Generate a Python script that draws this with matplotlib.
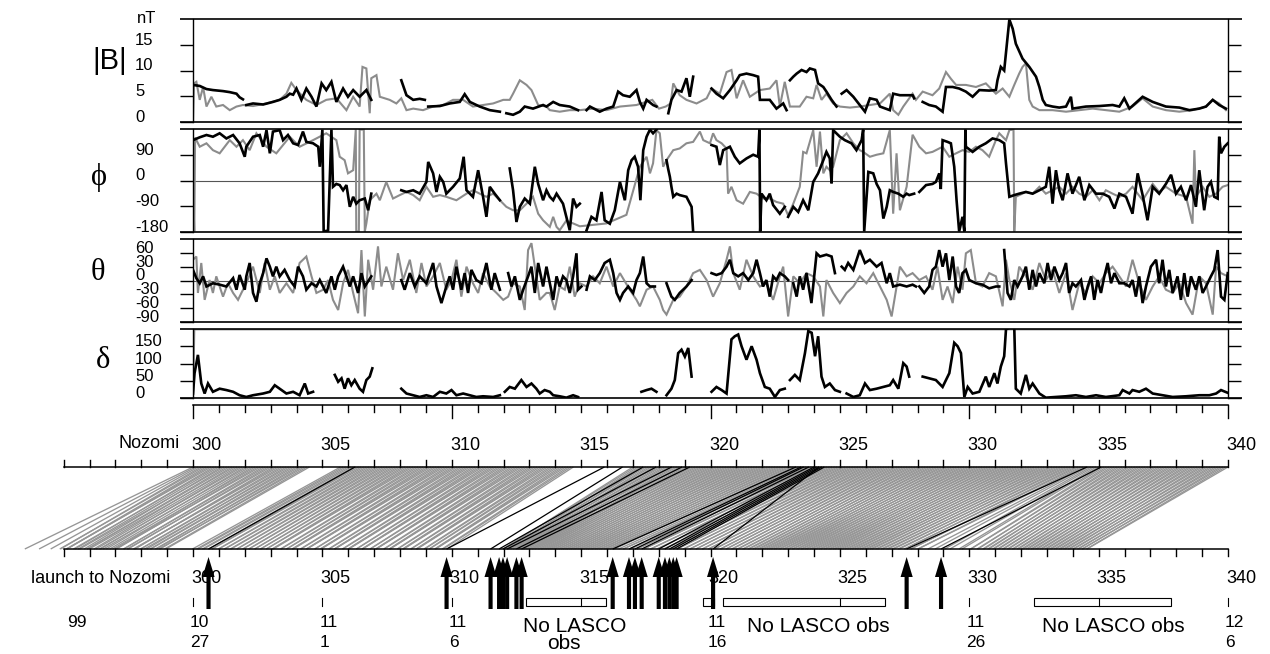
import numpy as np
import matplotlib
matplotlib.use("Agg")
import matplotlib.pyplot as plt
import matplotlib.transforms as mtransforms
from matplotlib.collections import LineCollection
from matplotlib.patches import Rectangle, FancyArrow

plt.rcParams['font.family'] = ['Liberation Sans', 'DejaVu Sans']
nan = np.nan

# ---------------- data (day of year, value) ----------------
b_black = [(300.00, 7.2), (300.26, 7.0), (300.52, 6.4), (300.77, 6.2), (301.16, 6.0), (301.42, 5.8),
           (301.68, 5.5), (301.80, 4.8), (301.93, 4.4), (301.97, nan), (302.06, 3.3), (302.32, 3.6),
           (302.71, 3.4), (303.09, 3.9), (303.35, 4.3), (303.61, 4.9), (303.74, 5.5), (303.87, 5.3),
           (304.00, 6.5), (304.19, 4.3), (304.38, 6.5), (304.58, 4.9), (304.77, 3.0), (304.97, 7.5),
           (305.15, 6.2), (305.35, 7.8), (305.54, 3.9), (305.80, 6.5), (305.99, 4.9), (306.19, 6.2),
           (306.44, 4.9), (306.70, 6.2), (306.89, 4.3), (307.50, nan), (308.05, 8.1), (308.25, 5.2),
           (308.51, 4.3), (308.76, 4.5), (308.96, 4.3), (309.05, nan), (309.09, 3.0), (309.54, 3.1),
           (309.92, 3.6), (310.31, 3.9), (310.50, 5.4), (310.70, 3.9), (311.08, 3.0), (311.47, 2.3),
           (311.86, 2.0), (311.95, nan), (312.11, 1.7), (312.37, 1.4), (312.63, 2.0), (312.82, 3.0),
           (313.14, 2.6), (313.53, 3.3), (313.66, 3.0), (313.92, 3.9), (314.17, 3.3), (314.56, 3.0),
           (314.88, 2.3), (315.00, nan), (315.21, 2.3), (315.34, 3.0), (315.72, 2.0), (315.98, 2.6),
           (316.24, 3.0), (316.43, 5.9), (316.62, 5.2), (316.88, 4.9), (317.14, 6.2), (317.27, 3.9),
           (317.40, 2.6), (317.53, 4.3), (317.78, 3.3), (317.91, 3.0), (318.10, nan), (318.37, 1.7),
           (318.49, 4.3), (318.69, 6.2), (318.88, 5.9), (319.07, 8.5), (319.20, 4.9), (319.33, 8.8),
           (319.60, nan), (320.04, 6.5), (320.23, 5.5), (320.49, 4.6), (320.75, 6.2), (321.01, 8.1),
           (321.13, 9.1), (321.39, 9.4), (321.65, 9.1), (321.84, 8.8), (321.91, 4.3), (322.29, 4.3),
           (322.55, 2.6), (322.81, 3.6), (322.94, 2.3), (323.00, nan), (323.07, 8.1), (323.20, 8.8),
           (323.33, 9.4), (323.52, 10.1), (323.71, 9.7), (323.84, 10.4), (324.04, 10.1), (324.16, 7.5),
           (324.36, 6.8), (324.48, 5.9), (324.68, 4.3), (324.87, 3.0), (324.95, nan), (325.07, 5.5),
           (325.26, 6.2), (325.52, 4.9), (325.77, 3.3), (325.97, 2.0), (326.16, 4.6), (326.42, 4.3),
           (326.55, 3.0), (326.93, 2.3), (327.06, 5.5), (327.32, 5.2), (327.58, 5.2), (327.81, 5.2),
           (327.87, 4.6), (327.95, nan), (328.20, 3.9), (328.45, 3.3), (328.71, 3.0), (328.97, 2.0),
           (329.10, 6.8), (329.36, 6.8), (329.61, 6.5), (329.87, 5.9), (330.13, 4.9), (330.39, 6.2),
           (330.77, 6.1), (331.03, 6.2), (331.09, 8.1), (331.22, 10.7), (331.35, 10.0), (331.48, 16.5),
           (331.55, 19.9), (331.68, 18.1), (331.80, 15.2), (332.06, 12.3), (332.32, 10.7), (332.58, 8.8),
           (332.71, 6.8), (332.84, 4.3), (332.96, 3.3), (333.22, 3.0), (333.48, 2.8), (333.74, 3.0),
           (333.93, 4.9), (333.99, 2.6), (334.51, 3.0), (335.03, 3.1), (335.54, 3.3), (335.80, 3.0),
           (335.99, 4.6), (336.19, 2.6), (336.70, 4.9), (337.09, 3.9), (337.60, 3.0), (338.12, 2.8),
           (338.51, 2.3), (338.89, 2.6), (339.15, 3.0), (339.41, 4.3), (339.66, 3.3), (339.92, 2.6)]

b_grey = [(300.00, 0.0), (300.04, 7.5), (300.13, 7.8), (300.26, 4.3), (300.39, 6.8), (300.52, 3.0),
          (300.71, 4.9), (300.90, 3.0), (301.16, 3.3), (301.42, 2.3), (301.68, 3.0), (301.93, 3.3),
          (302.32, 3.1), (302.84, 3.6), (303.35, 4.3), (303.61, 5.5), (303.80, 7.6), (304.00, 6.2),
          (304.38, 4.3), (304.77, 3.3), (305.15, 4.3), (305.54, 4.6), (305.93, 2.3), (306.19, 4.9),
          (306.44, 3.0), (306.55, 10.7), (306.70, 10.4), (306.83, 1.7), (306.89, 8.5), (307.09, 9.1),
          (307.22, 4.9), (307.60, 4.3), (307.86, 3.6), (308.05, 4.6), (308.25, 2.3), (308.51, 2.6),
          (308.89, 2.3), (309.28, 3.0), (309.67, 3.3), (310.05, 4.3), (310.44, 4.3), (310.82, 3.0),
          (311.21, 3.3), (311.60, 3.6), (311.99, 4.3), (312.24, 4.3), (312.37, 5.5), (312.63, 8.1),
          (312.89, 7.2), (313.08, 6.2), (313.34, 3.3), (313.66, 3.0), (313.79, 2.3), (314.17, 2.0),
          (314.56, 2.3), (314.95, 2.3), (315.46, 2.6), (315.98, 2.3), (316.50, 3.0), (317.14, 3.3),
          (317.75, 4.3), (318.01, 2.6), (318.27, 3.0), (318.46, 3.6), (318.56, 7.5), (318.81, 5.2),
          (319.07, 4.3), (319.46, 3.6), (319.85, 4.6), (320.04, 6.5), (320.36, 5.5), (320.62, 9.7),
          (320.81, 10.1), (321.01, 4.6), (321.26, 8.1), (321.52, 4.9), (321.91, 6.2), (322.29, 6.5),
          (322.55, 8.1), (322.68, 3.0), (322.87, 7.8), (323.07, 3.0), (323.45, 3.0), (323.71, 4.9),
          (323.97, 4.6), (324.10, 7.2), (324.29, 4.3), (324.48, 5.5), (324.74, 3.6), (325.00, 3.0),
          (325.39, 2.8), (325.77, 3.0), (326.16, 3.3), (326.55, 3.6), (326.93, 5.5), (327.06, 2.3),
          (327.26, 1.4), (327.45, 3.0), (327.81, 5.5), (327.94, 4.3), (328.20, 5.9), (328.58, 5.2),
          (328.84, 6.5), (328.97, 8.1), (329.10, 9.7), (329.29, 8.4), (329.49, 7.2), (329.87, 7.2),
          (330.26, 6.8), (330.64, 7.5), (331.03, 5.5), (331.29, 6.5), (331.55, 4.9), (331.74, 7.2),
          (331.93, 9.4), (332.06, 10.7), (332.19, 11.4), (332.32, 4.3), (332.45, 3.0), (332.71, 2.3),
          (333.22, 2.3), (333.74, 2.0), (334.25, 2.3), (334.77, 2.6), (335.28, 2.3), (335.80, 2.0),
          (336.31, 3.0), (336.70, 4.6), (337.09, 3.0), (337.60, 2.3), (338.12, 2.0), (338.63, 2.3),
          (339.15, 3.0), (339.41, 4.3), (339.66, 3.6), (339.92, 2.3)]

phi_black = [(300.00, 141), (300.26, 151), (300.52, 159), (300.77, 153), (301.03, 165), (301.29, 147),
             (301.55, 159), (301.80, 130), (302.00, 83), (302.06, 118), (302.32, 153), (302.58, 159),
             (302.71, 118), (302.84, 176), (302.97, 95), (303.09, 171), (303.35, 176), (303.48, 141),
             (303.67, 159), (303.87, 130), (304.06, 124), (304.25, 171), (304.38, 135), (304.64, 130),
             (304.84, 118), (304.90, 48), (305.00, 178), (305.05, -178), (305.22, -175), (305.35, 178),
             (305.41, -22), (305.54, -12), (305.67, -16), (305.80, -34), (305.93, -16), (306.06, -92),
             (306.19, -57), (306.31, -81), (306.44, -69), (306.64, -63), (306.77, -104), (306.89, -46),
             (307.50, nan), (308.05, -34), (308.25, -40), (308.51, -34), (308.76, -46), (309.02, -5),
             (309.09, 65), (309.28, 25), (309.41, -40), (309.54, 13), (309.67, -5), (309.79, -46),
             (310.05, -22), (310.31, 7), (310.46, 83), (310.57, -34), (310.70, -46), (310.82, -57),
             (311.02, 36), (311.21, -57), (311.34, -127), (311.47, -22), (311.66, -46), (311.86, -69),
             (312.00, nan), (312.24, 42), (312.37, -34), (312.50, -145), (312.63, -92), (312.82, -63),
             (313.02, -81), (313.21, 48), (313.34, -12), (313.53, -69), (313.66, -34), (313.79, -57),
             (313.92, -69), (314.05, -46), (314.30, -81), (314.56, -174), (314.69, -63), (314.82, -92),
             (314.95, -81), (315.05, nan), (315.21, -174), (315.40, -127), (315.59, -139), (315.79, -40),
             (315.91, -139), (316.11, -151), (316.30, -104), (316.50, -5), (316.69, -69), (316.82, 36),
             (316.95, 71), (317.07, 83), (317.20, 48), (317.29, -69), (317.40, 106), (317.53, 153),
             (317.66, 178), (317.78, 165), (317.91, 178), (318.10, nan), (318.30, 71), (318.36, 42),
             (318.43, 13), (318.49, -22), (318.56, -57), (318.69, -46), (318.81, -51), (319.07, -57),
             (319.27, -92), (319.33, -180), (319.60, nan), (320.04, 124), (320.23, 118), (320.36, 54),
             (320.49, 106), (320.75, 118), (320.94, 83), (321.13, 60), (321.39, 77), (321.65, 90),
             (321.84, 83), (321.89, 178), (321.92, -178), (321.97, -46), (322.16, -69), (322.29, -46),
             (322.42, -86), (322.68, -116), (322.87, -92), (322.95, nan), (323.00, -127), (323.20, -92),
             (323.39, -110), (323.58, -69), (323.78, -104), (323.97, -5), (324.16, 25), (324.36, 71),
             (324.48, 100), (324.61, 77), (324.68, -10), (324.74, 176), (325.00, 153), (325.19, 141),
             (325.45, 130), (325.64, 106), (325.84, 141), (325.90, 178), (325.94, -178), (326.10, 30),
             (326.29, 25), (326.42, -12), (326.55, -34), (326.68, -133), (326.81, -92), (326.93, -34),
             (327.06, -40), (327.26, -46), (327.45, -57), (327.58, -46), (327.68, -51), (327.87, -46),
             (327.95, nan), (328.07, -40), (328.33, -16), (328.58, -12), (328.71, -5), (328.84, 25),
             (328.90, -30), (328.97, 141), (329.16, 135), (329.29, 130), (329.42, 48), (329.51, -69),
             (329.61, -178), (329.74, -127), (329.81, -178), (329.85, 178), (329.87, 118), (330.13, 100),
             (330.39, 118), (330.64, 130), (330.90, 147), (331.16, 141), (331.35, 130), (331.42, 60),
             (331.55, -57), (331.74, -51), (331.93, -46), (332.19, -40), (332.45, -46), (332.71, -34),
             (332.96, -22), (333.09, 48), (333.22, -81), (333.35, 36), (333.48, -34), (333.61, -69),
             (333.80, 25), (333.99, -46), (334.25, 13), (334.45, -69), (334.64, -16), (334.90, -46),
             (335.16, -46), (335.41, -57), (335.61, -98), (335.80, -46), (336.06, -57), (336.31, -116),
             (336.51, 25), (336.70, -51), (336.89, -139), (337.09, -22), (337.34, -46), (337.60, -12),
             (337.80, 20), (337.99, -46), (338.18, -22), (338.38, -69), (338.57, -16), (338.76, -92),
             (338.89, 36), (339.08, -104), (339.21, -22), (339.34, -5), (339.47, -57), (339.60, -63),
             (339.66, 153), (339.73, 95), (339.86, 118), (339.99, 130)]

phi_grey = [(300.00, -15), (300.05, -178), (300.08, 150), (300.26, 118), (300.52, 130), (300.77, 106),
            (301.03, 95), (301.42, 141), (301.68, 118), (301.93, 141), (302.19, 106), (302.45, 165),
            (302.84, 118), (303.22, 95), (303.74, 153), (304.12, 118), (304.64, 141), (305.15, 165),
            (305.54, 141), (305.67, 83), (305.86, 71), (305.99, 25), (306.19, 36), (306.29, 178),
            (306.31, -178), (306.41, -178), (306.44, 178), (306.60, 178), (306.64, -178), (306.70, -150),
            (306.83, -69), (307.09, -46), (307.22, -69), (307.47, -5), (307.73, -63), (307.99, -51),
            (308.25, -40), (308.51, -51), (308.76, -69), (309.02, -22), (309.28, -57), (309.54, -51),
            (309.79, -57), (310.18, -69), (310.57, -46), (310.82, -34), (311.08, -46), (311.34, -57),
            (311.60, -46), (311.86, -69), (312.11, -92), (312.37, -104), (312.63, -104), (312.89, -81),
            (313.14, -57), (313.34, -116), (313.53, -139), (313.79, -162), (313.92, -127), (314.05, -162),
            (314.17, -174), (314.43, -140), (314.69, -150), (314.95, -160), (315.98, -150), (316.75, -120),
            (317.27, 48), (317.53, 83), (317.66, 25), (317.78, 60), (317.91, 176), (318.04, 165),
            (318.17, 48), (318.30, 71), (318.56, 106), (318.81, 112), (319.07, 130), (319.33, 135),
            (319.59, 171), (319.72, 141), (319.98, 130), (320.10, 165), (320.23, 141), (320.43, 130),
            (320.62, 112), (320.68, -46), (320.81, -22), (321.01, -69), (321.26, -81), (321.52, -40),
            (321.78, -46), (322.03, -63), (322.29, -63), (322.55, -75), (322.81, -81), (323.00, -122),
            (323.20, -81), (323.45, -22), (323.58, 100), (323.71, 95), (323.97, 176), (324.10, 48),
            (324.23, 171), (324.36, 25), (324.48, 48), (324.61, 36), (324.74, 48), (325.00, 141),
            (325.26, 165), (325.52, 130), (325.77, 106), (325.90, 100), (326.16, 83), (326.42, 90),
            (326.68, 95), (326.93, 176), (327.06, -116), (327.19, 95), (327.32, -104), (327.58, -22),
            (327.81, 160), (328.07, 118), (328.33, 95), (328.58, 100), (328.97, 118), (329.23, 83),
            (329.49, 95), (329.74, 106), (330.00, 100), (330.26, 118), (330.51, 106), (330.77, 83),
            (331.03, 141), (331.16, 165), (331.42, 141), (331.55, 176), (331.71, 178), (331.74, -178),
            (331.80, -57), (332.19, -40), (332.45, -46), (332.71, -22), (332.96, -46), (333.22, -34),
            (333.48, -22), (333.74, -46), (333.99, -22), (334.25, -46), (334.51, -57), (334.77, -34),
            (335.03, -69), (335.28, -34), (335.54, -46), (335.80, -57), (336.06, -46), (336.31, -22),
            (336.70, -69), (337.09, -12), (337.34, -40), (337.60, -22), (337.99, -46), (338.38, -57),
            (338.63, -151), (338.70, 106), (338.76, -57), (339.02, -22), (339.28, -57), (339.54, -46),
            (339.79, -22), (339.99, -16)]

theta_black = [(300.00, 23), (300.13, 5), (300.26, -6), (300.39, 9), (300.52, -13), (300.77, -6),
               (301.03, -9), (301.29, -13), (301.55, 5), (301.68, -20), (301.80, 12), (302.00, -20),
               (302.06, 9), (302.19, 38), (302.32, -27), (302.45, -46), (302.58, -6), (302.71, 16),
               (302.84, 48), (302.97, 30), (303.09, 9), (303.22, 30), (303.35, 9), (303.54, 23),
               (303.74, 1), (303.93, -13), (304.06, 30), (304.25, 9), (304.38, -20), (304.58, -6),
               (304.77, -13), (304.90, 1), (305.15, -27), (305.35, 9), (305.48, -20), (305.61, 9),
               (305.80, 30), (305.93, 9), (306.06, -13), (306.19, 9), (306.38, -27), (306.51, 16),
               (306.64, -13), (306.89, 9), (307.50, nan), (308.05, 1), (308.18, -20), (308.38, 16),
               (308.57, -13), (308.76, 9), (309.02, -6), (309.28, 38), (309.41, -13), (309.60, -49),
               (309.79, -13), (309.92, 9), (310.05, -20), (310.18, 30), (310.37, -20), (310.50, 16),
               (310.63, -27), (310.76, 23), (310.95, 1), (311.15, -6), (311.34, 38), (311.53, -20),
               (311.66, 16), (311.86, -20), (312.00, nan), (312.18, 16), (312.31, -13), (312.44, 9),
               (312.63, -42), (312.76, -20), (312.95, 9), (313.08, 30), (313.21, -27), (313.34, 38),
               (313.53, -13), (313.66, 30), (313.92, -42), (314.05, 9), (314.17, -13), (314.30, 9),
               (314.43, 1), (314.56, -27), (314.69, 9), (314.82, 59), (314.88, -20), (315.01, -13),
               (315.10, nan), (315.21, -20), (315.34, 9), (315.53, 1), (315.72, 16), (315.91, 38),
               (316.11, 45), (316.24, 16), (316.37, -27), (316.50, -42), (316.62, -27), (316.82, -13),
               (317.01, -27), (317.14, 1), (317.27, 16), (317.40, 52), (317.53, -6), (317.66, -13),
               (317.85, -13), (318.10, nan), (318.30, -6), (318.49, -35), (318.62, -42), (318.81, -27),
               (319.07, -13), (319.27, 1), (319.60, nan), (320.04, 16), (320.23, 12), (320.43, 16),
               (320.62, 30), (320.75, 45), (320.88, 16), (321.07, 9), (321.26, 16), (321.46, 1),
               (321.65, 16), (321.78, 45), (321.91, 16), (322.03, -13), (322.16, 1), (322.29, -35),
               (322.42, 9), (322.55, 1), (322.68, 16), (322.87, 9), (323.00, 1), (323.10, nan),
               (323.20, -6), (323.33, -35), (323.45, 9), (323.58, -20), (323.71, 16), (323.90, -49),
               (324.10, 59), (324.23, 52), (324.48, 56), (324.68, 52), (324.81, 16), (324.95, nan),
               (325.07, 30), (325.19, 23), (325.32, 38), (325.52, 23), (325.77, 66), (325.97, 38),
               (326.16, 45), (326.42, 30), (326.61, 38), (326.81, -6), (326.93, 16), (327.06, -13),
               (327.32, -9), (327.58, -13), (327.81, -9), (327.94, -13), (328.00, nan), (328.07, -13),
               (328.26, -27), (328.45, -13), (328.58, 23), (328.71, 30), (328.84, 66), (328.97, 30),
               (329.10, 59), (329.23, 1), (329.36, 52), (329.49, -13), (329.61, -27), (329.74, 16),
               (329.87, 23), (330.00, 1), (330.26, -6), (330.51, -9), (330.77, -17), (331.03, -13),
               (331.16, -13), (331.25, nan), (331.35, 66), (331.48, -27), (331.61, -42), (331.74, 1),
               (331.87, -13), (332.06, 9), (332.19, 30), (332.32, -20), (332.45, 23), (332.58, -13),
               (332.71, 16), (332.90, -6), (333.03, 38), (333.16, 1), (333.29, 30), (333.48, 1),
               (333.61, 16), (333.74, 38), (333.86, -27), (333.99, -6), (334.12, -13), (334.32, 1),
               (334.45, -42), (334.58, -13), (334.71, 9), (334.83, -42), (334.96, 1), (335.09, -27),
               (335.22, 9), (335.35, 38), (335.48, -6), (335.61, 16), (335.80, -6), (335.99, -6),
               (336.19, -13), (336.31, 1), (336.44, -35), (336.57, 9), (336.70, -49), (336.83, -13),
               (337.02, 30), (337.22, 45), (337.34, -6), (337.47, 45), (337.60, -13), (337.73, 23),
               (337.86, -27), (338.05, 9), (338.18, -42), (338.31, 16), (338.44, -35), (338.57, 9),
               (338.76, -20), (338.89, 9), (339.02, -27), (339.15, -13), (339.34, 9), (339.47, 23),
               (339.60, 66), (339.73, -35), (339.86, -42), (339.99, 16)]

theta_grey = [(300.00, 45), (300.13, 52), (300.19, -27), (300.32, 38), (300.45, -42), (300.64, 1),
              (300.77, -27), (300.90, 9), (301.16, -35), (301.35, -6), (301.55, -27), (301.74, -42),
              (301.87, -27), (302.06, -6), (302.32, 30), (302.58, -27), (302.77, 38), (302.97, -20),
              (303.16, 9), (303.35, -27), (303.61, -6), (303.87, -27), (304.12, 38), (304.38, 52),
              (304.58, 9), (304.77, -27), (305.03, -20), (305.22, 1), (305.41, -42), (305.61, -64),
              (305.80, -6), (305.99, 23), (306.19, -27), (306.38, -71), (306.51, 66), (306.64, -78),
              (306.77, 45), (306.96, -20), (307.15, 74), (307.28, -13), (307.47, 30), (307.73, -20),
              (307.92, 59), (308.12, 1), (308.38, 45), (308.63, -27), (308.83, 38), (309.02, -13),
              (309.28, 9), (309.54, 38), (309.79, -20), (309.99, 1), (310.18, 45), (310.37, -35),
              (310.57, 30), (310.82, -6), (311.02, -27), (311.21, 16), (311.47, -13), (311.73, -27),
              (311.99, -42), (312.18, -35), (312.37, -6), (312.63, -13), (312.82, -64), (312.95, 66),
              (313.08, 81), (313.21, 30), (313.40, -42), (313.66, -27), (313.79, -27), (313.98, -64),
              (314.17, -13), (314.37, -20), (314.56, 30), (314.75, -35), (314.95, -6), (315.21, -13),
              (315.46, 9), (315.72, -6), (315.98, 30), (316.24, -13), (316.50, 16), (316.88, -20),
              (317.14, -42), (317.27, -56), (317.53, -20), (317.78, -13), (318.04, -42), (318.17, -64),
              (318.30, -74), (318.56, -42), (318.81, -35), (319.07, -13), (319.33, 16), (319.59, 23),
              (319.85, 1), (320.10, -35), (320.36, -6), (320.62, 45), (320.75, 74), (320.88, 16),
              (321.13, -20), (321.39, 45), (321.65, 9), (321.91, -13), (322.16, -6), (322.42, -42),
              (322.68, 9), (322.81, 30), (323.00, -78), (323.20, 9), (323.45, -6), (323.71, 16),
              (323.97, 9), (324.23, -13), (324.36, -78), (324.48, 1), (324.74, -27), (325.00, -49),
              (325.26, -27), (325.52, -13), (325.77, 9), (326.03, -6), (326.29, 16), (326.55, -13),
              (326.81, -42), (327.00, -78), (327.19, -13), (327.32, 30), (327.58, 9), (327.81, 16),
              (328.07, 1), (328.33, 9), (328.58, -20), (328.77, 30), (328.97, -42), (329.16, -13),
              (329.36, -49), (329.55, 30), (329.74, -20), (329.87, 59), (330.06, 66), (330.26, -6),
              (330.51, -13), (330.77, 16), (331.03, 9), (331.29, -56), (331.42, 45), (331.55, 1),
              (331.74, -42), (331.93, 30), (332.19, 9), (332.45, -20), (332.71, 38), (332.96, 1),
              (333.22, 23), (333.48, -27), (333.74, 16), (333.99, -64), (334.25, -6), (334.51, -27),
              (334.77, 9), (335.03, -6), (335.28, 16), (335.54, 30), (335.80, 9), (336.06, -13),
              (336.31, 45), (336.57, -6), (336.83, -42), (337.09, -13), (337.34, 9), (337.60, -20),
              (337.86, -27), (338.12, -6), (338.38, -49), (338.63, -74), (338.89, 9), (339.15, -6),
              (339.41, -74), (339.54, 30), (339.73, 16), (339.99, 9)]

delta_black = [(300.00, 13), (300.06, 72), (300.19, 125), (300.32, 42), (300.45, 13), (300.58, 42),
               (300.77, 18), (301.03, 27), (301.29, 23), (301.55, 18), (301.80, 8), (302.06, 3),
               (302.32, 8), (302.71, 13), (302.97, 18), (303.16, 37), (303.35, 27), (303.61, 13),
               (303.87, 18), (304.12, 8), (304.32, 42), (304.45, 13), (304.64, 18), (305.00, nan),
               (305.48, 67), (305.61, 47), (305.74, 57), (305.86, 27), (305.99, 57), (306.12, 37),
               (306.25, 52), (306.44, 27), (306.57, 18), (306.70, 52), (306.83, 62), (306.93, 86),
               (307.50, nan), (308.05, 27), (308.25, 13), (308.51, 8), (308.76, 3), (309.02, 8),
               (309.28, 3), (309.54, 18), (309.79, 13), (309.99, 23), (310.18, 8), (310.44, 13),
               (310.70, 8), (310.95, 3), (311.21, 5), (311.60, 3), (311.86, 8), (311.95, nan),
               (312.05, 18), (312.24, 32), (312.44, 27), (312.69, 52), (312.89, 32), (313.08, 42),
               (313.27, 27), (313.40, 13), (313.59, 23), (313.79, 18), (313.92, 8), (314.17, 5),
               (314.43, 1), (314.69, 8), (314.88, 3), (315.00, nan), (317.33, 18), (317.53, 23),
               (317.72, 27), (317.91, 18), (318.10, nan), (318.30, 8), (318.49, 27), (318.62, 52),
               (318.75, 130), (318.88, 140), (319.01, 120), (319.14, 145), (319.27, 62), (319.60, nan),
               (320.04, 18), (320.23, 32), (320.43, 23), (320.62, 13), (320.81, 170), (320.94, 179),
               (321.07, 184), (321.20, 150), (321.39, 111), (321.59, 150), (321.78, 111), (321.91, 72),
               (322.10, 32), (322.29, 27), (322.49, 3), (322.68, 23), (322.87, 27), (322.97, nan),
               (323.07, 52), (323.26, 67), (323.45, 52), (323.65, 130), (323.78, 194), (323.91, 189),
               (324.04, 121), (324.16, 179), (324.29, 62), (324.42, 32), (324.61, 42), (324.81, 23),
               (325.00, 18), (325.13, nan), (325.26, 13), (325.52, 3), (325.77, 8), (325.97, 42),
               (326.16, 23), (326.42, 27), (326.68, 32), (326.93, 37), (327.06, 52), (327.26, 27),
               (327.45, 101), (327.58, 91), (327.68, 62), (327.95, nan), (328.20, 62), (328.45, 57),
               (328.71, 52), (328.97, 32), (329.23, 72), (329.42, 160), (329.55, 150), (329.68, 130),
               (329.81, 3), (329.94, 32), (330.13, 13), (330.39, 18), (330.64, 62), (330.77, 32),
               (330.97, 72), (331.09, 42), (331.22, 91), (331.35, 121), (331.42, 199), (331.55, 204),
               (331.74, 204), (331.80, 27), (331.99, 13), (332.19, 67), (332.32, 27), (332.45, 42),
               (332.71, 13), (332.96, 1), (333.35, 3), (333.74, 5), (334.12, 8), (334.51, 3),
               (334.90, 8), (335.28, 3), (335.80, 8), (335.93, 23), (336.19, 13), (336.31, 23),
               (336.57, 18), (336.83, 27), (337.09, 13), (337.47, 8), (337.86, 3), (338.38, 5),
               (338.89, 8), (339.28, 8), (339.54, 13), (339.73, 23), (339.99, 15)]

# grey delta sits against the top of its scale
delta_grey = [(300.00, 0), (300.05, 199), (340.00, 199)]

# ballistic mapping: arrival day at Nozomi (row start, 0.1 day steps) -> travel time in days
travel_rows = {
    300: [6.50, 6.05, 5.70, 5.42, 5.55, 5.38, 5.47, 5.60, 5.36, 5.52],
    301: [5.44, 5.31, 5.58, 5.40, 5.49, 5.33, 5.61, 5.45, 5.38, 5.52],
    302: [5.35, 5.57, 5.42, 5.30, 5.51, 5.46, 5.62, 5.37, 5.49, 5.41],
    303: [5.55, 5.34, 5.48, 5.60, 5.43, 5.52, 5.39, 5.58, 5.46, 5.53],
    304: [5.41, 5.56, 5.48, 5.62, 5.50, 5.55, nan, nan, nan, nan],
    305: [nan, nan, nan, nan, nan, nan, nan, 5.72, 5.66, 5.70],
    306: [5.64, 5.69, 5.60, 5.58, 5.66, 5.52, 5.61, 5.49, 5.57, 5.46],
    307: [5.53, 5.41, 5.50, 5.38, 5.47, 5.35, 5.44, 5.31, 5.42, 5.29],
    308: [5.39, 5.27, 5.36, 5.24, 5.33, 5.40, 5.22, 5.30, 5.19, 5.28],
    309: [5.17, 5.26, 5.33, 5.15, 5.23, 5.12, 5.21, 5.30, 5.10, 5.19],
    310: [5.08, 5.17, 5.25, 5.06, 5.14, 5.04, 5.13, 5.22, 5.03, 5.11],
    311: [5.01, 5.10, 5.18, 4.99, 5.08, 4.97, 5.06, 5.15, 4.96, 5.05],
    312: [4.94, 5.03, 5.12, 4.93, 5.01, 4.92, 5.00, 5.09, 4.91, 4.99],
    313: [4.90, 4.98, 5.06, 4.89, 4.97, 4.88, 4.96, 5.04, 4.87, 4.95],
    314: [4.88, 4.96, 4.86, 4.94, 5.02, 4.87, 4.93, 4.89, nan, nan],
    315: [nan] * 10,
    316: [nan] * 10,
    317: [5.00, 5.12, 5.06, 5.21, 5.16, 5.33, 5.24, 5.42, 5.35, 5.52],
    318: [5.44, 5.63, 5.55, 5.72, 5.64, 5.83, 5.74, 5.92, 5.81, 6.00],
    319: [5.91, 6.09, 6.00, 6.18, 6.08, 6.27, 6.16, 6.34, 6.22, 6.40],
    320: [6.29, 6.46, 6.35, 6.52, 6.41, 6.57, 6.46, 6.62, 6.50, 6.67],
    321: [6.55, 6.71, 6.59, 6.76, 6.63, 6.80, 6.66, 6.84, 6.70, 6.87],
    322: [6.73, 6.91, 6.77, 6.94, 6.80, 6.97, 6.83, 7.00, 6.86, 7.03],
    323: [6.89, 7.06, 6.92, 7.08, 6.95, 6.88, 6.96, 6.81, 6.90, 6.74],
    324: [6.84, 6.67, 6.79, 6.60, 6.73, 6.54, 6.68, 6.48, 6.62, 6.43],
    325: [6.57, 6.38, 6.51, 6.33, 6.46, 6.29, 6.41, 6.25, 6.37, 6.20],
    326: [6.33, 6.17, 6.29, 6.13, 6.26, 6.10, 6.23, 6.08, 6.21, 6.05],
    327: [6.19, 6.03, 6.17, 6.01, 6.16, 6.00, 6.16, 5.99, 6.17, 6.00],
    328: [6.18, 6.01, 6.20, 6.03, 6.22, 6.05, 6.25, 6.07, 6.28, 6.09],
    329: [6.31, 6.12, 6.34, 6.15, 6.37, 6.18, 6.40, 6.21, 6.42, 6.24],
    330: [6.45, 6.26, 6.47, 6.28, 6.49, 6.30, 6.51, 6.32, 6.53, 6.34],
    331: [6.55, 6.36, 6.57, 6.38, 6.58, 6.40, 6.59, 6.41, 6.60, 6.42],
    332: [6.61, 6.43, 6.62, 6.44, 6.62, 6.44, 6.63, 6.45, 6.63, 6.45],
    333: [6.62, 6.44, 6.61, 6.43, 6.60, 6.42, 6.58, 6.40, 6.56, 6.38],
    334: [6.52, 6.35, 6.47, 6.29, 6.38, 6.10, 5.92, 5.65, 5.55, 5.30],
    335: [5.28, 5.05, 5.14, 4.96, 5.10, 4.93, 5.08, 4.94, 5.09, 4.95],
    336: [5.10, 4.96, 5.11, 4.97, 5.12, 4.98, 5.13, 4.99, 5.14, 5.00],
    337: [5.16, 5.01, 5.18, 5.03, 5.20, 5.05, 5.22, 5.07, 5.24, 5.09],
    338: [5.26, 5.11, 5.28, 5.13, 5.30, 5.15, 5.32, 5.17, 5.34, 5.19],
    339: [5.36, 5.22, 5.38, 5.25, 5.40, 5.28, 5.42, 5.32, 5.45, 5.37],
    340: [5.45],
}

# CMEs seen by LASCO: launch day and arrival day at Nozomi
cme_launch = [300.6, 309.8, 311.5, 311.83, 311.98, 312.14, 312.5, 312.7, 316.22, 316.85,
              317.08, 317.34, 318.0, 318.24, 318.41, 318.56, 318.69, 320.1, 327.58, 328.91]
cme_arrive = [306.26, 315.9, 316.6, 317.4, 317.9, 318.5, 318.9, 319.2, 323.3, 323.5,
              323.6, 323.8, 324.0, 324.1, 324.2, 324.3, 324.4, 324.2, 334.55, 335.1]

no_lasco = [(312.87, 315.96), (319.7, 320.15), (320.5, 326.75), (332.5, 337.8)]
dates = [(300, '10', '27'), (305, '11', '1'), (310, '11', '6'), (320, '11', '16'),
         (330, '11', '26'), (340, '12', '6')]

# ---------------- figure ----------------
W, H = 1270.0, 654.0
X0, X1 = 193.0, 1228.0
PXD = (X1 - X0) / 40.0


def px2day(x):
    return 300 + (x - X0) / PXD


fig = plt.figure(figsize=(12.7, 6.54), dpi=100)
cv = fig.add_axes([0, 0, 1, 1])
cv.set_xlim(px2day(0), px2day(W))
cv.set_ylim(H, 0)
cv.axis('off')

GREY = '#8c8c8c'
xa, xb = px2day(180), px2day(1242)


def panel(top, bot, ylim, ticks, labels):
    ax = fig.add_axes([X0 / W, 1 - bot / H, (X1 - X0) / W, (bot - top) / H])
    ax.set_facecolor('none')
    ax.set_xlim(300, 340)
    ax.set_ylim(*ylim)
    for s in ('top', 'bottom'):
        ax.spines[s].set_visible(False)
    for s in ('left', 'right'):
        ax.spines[s].set_linewidth(1.0)
    ax.set_xticks([])
    ax.set_yticks(ticks)
    ax.tick_params(axis='y', direction='out', length=9.4, width=1.0,
                   left=True, right=True, labelleft=False)
    ax.hlines(list(ylim), xa, xb, colors='k', lw=1.2, clip_on=False, zorder=5)
    tr = mtransforms.blended_transform_factory(fig.transFigure, ax.transData)
    for t, s in zip(ticks, labels):
        ax.text(135 / W, t, s, transform=tr, ha='left', va='baseline', fontsize=12)
    return ax


def draw(ax, series, color, lw):
    a = np.array(series, dtype=float)
    ax.plot(a[:, 0], a[:, 1], color=color, lw=lw, solid_joinstyle='miter')


axB = panel(19, 122, (0, 20), [0, 5, 10, 15], ['0', '5', '10', '15'])
draw(axB, b_grey, GREY, 1.5)
draw(axB, b_black, 'k', 1.9)

axP = panel(129, 232, (-180, 180), [-180, -90, 0, 90], ['-180', '-90', '0', '90'])
axP.axhline(0, color='#555555', lw=0.8, zorder=1)
draw(axP, phi_grey, GREY, 1.5)
draw(axP, phi_black, 'k', 1.9)

axT = panel(239, 322, (-90, 90), [-90, -60, -30, 0, 30, 60],
            ['-90', '-60', '-30', '0', '30', '60'])
axT.axhline(0, color='#555555', lw=0.8, zorder=1)
draw(axT, theta_grey, GREY, 1.5)
draw(axT, theta_black, 'k', 1.9)

axD = panel(329, 398, (0, 200), [0, 50, 100, 150], ['0', '50', '100', '150'])
draw(axD, delta_grey, GREY, 1.5)
draw(axD, delta_black, 'k', 1.9)

# panel names
fig.text(110 / W, 1 - 61 / H, '|B|', fontsize=21, ha='center', va='center')
fig.text(137 / W, 1 - 23 / H, 'nT', fontsize=12, ha='left', va='baseline')
serif = ['Liberation Serif', 'DejaVu Serif']
fig.text(99 / W, 1 - 177 / H, '\u03d5', fontsize=22, family=serif, ha='center', va='center')
fig.text(98 / W, 1 - 272 / H, '\u03b8', fontsize=22, family=serif, ha='center', va='center')
fig.text(103 / W, 1 - 360 / H, '\u03b4', fontsize=22, family=serif, ha='center', va='center')

# time axis under the panels
cv.plot([300, 340], [405, 405], color='k', lw=1.1)
for d in range(300, 341):
    cv.plot([d, d], [405, 418 if d % 10 == 0 else 412], color='k', lw=1.0)

# Nozomi axis and launch axis
for yl, sign in ((467, -1), (549, 1)):
    cv.plot([295, 340], [yl, yl], color='k', lw=1.1, zorder=3)
    for d in range(295, 341):
        cv.plot([d, d], [yl, yl + sign * 7], color='k', lw=1.0, zorder=3)

for d in range(300, 341, 5):
    cv.text(d - 0.06, 450, str(d), fontsize=13, ha='left', va='baseline')
    cv.text(d - 0.08, 583, str(d), fontsize=13, ha='left', va='baseline')
cv.text(px2day(180), 448, 'Nozomi', fontsize=13, ha='right', va='baseline')
cv.text(px2day(170), 583, 'launch to Nozomi', fontsize=13, ha='right', va='baseline')

# mapping lines
segs = []
for day0, row in travel_rows.items():
    for i, tt in enumerate(row):
        if np.isnan(tt):
            continue
        arr = day0 + 0.1 * i
        segs.append([(arr - tt, 549), (arr, 467)])
cv.add_collection(LineCollection(segs, colors='#969696', linewidths=0.95, zorder=1))
cme_segs = [[(l, 549), (a, 467)] for l, a in zip(cme_launch, cme_arrive)]
cv.add_collection(LineCollection(cme_segs, colors='k', linewidths=0.9, zorder=2))

# CME arrows
for l in cme_launch:
    cv.add_patch(FancyArrow(l, 609, 0, -52, width=0.16, head_width=0.47, head_length=20,
                            length_includes_head=True, color='k', lw=0, zorder=6))

# No LASCO boxes, date marks, labels
for d0, d1 in no_lasco:
    cv.add_patch(Rectangle((d0, 598), d1 - d0, 8, facecolor='white', edgecolor='k',
                           lw=0.8, zorder=3))
for d in range(300, 341, 5):
    cv.plot([d, d], [598, 606], color='k', lw=0.8, zorder=4)
for d, m, dd in dates:
    cv.text(d - 0.12, 627, m, fontsize=12.5, ha='left', va='baseline')
    cv.text(d - 0.12, 647, dd, fontsize=12.5, ha='left', va='baseline')
cv.text(px2day(67), 627, '99', fontsize=12.5, ha='left', va='baseline')

cv.text(px2day(575), 632, 'No LASCO', fontsize=15, ha='center', va='baseline')
cv.text(px2day(564), 649, 'obs', fontsize=15, ha='center', va='baseline')
cv.text(px2day(818), 632, 'No LASCO obs', fontsize=15, ha='center', va='baseline')
cv.text(px2day(1113), 632, 'No LASCO obs', fontsize=15, ha='center', va='baseline')

fig.savefig('out.png', dpi=100)
